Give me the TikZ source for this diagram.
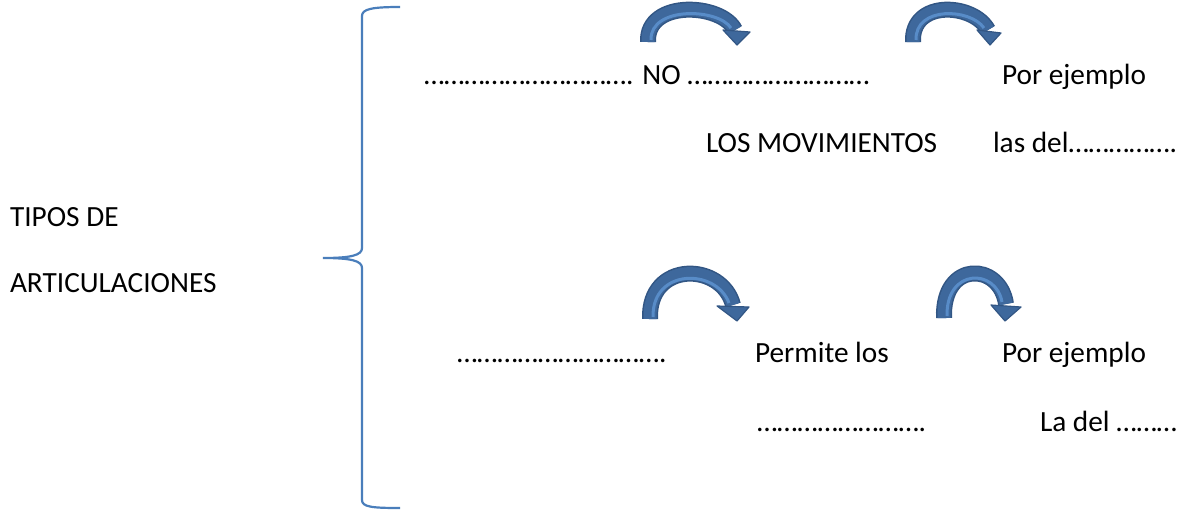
\documentclass[tikz,border=0pt]{standalone}
\usepackage{fontspec}
\setmainfont{Carlito}
\definecolor{bracecol}{RGB}{74,126,187}
\definecolor{arrfill}{RGB}{62,104,156}
\definecolor{arredge}{RGB}{50,86,132}
\definecolor{arrlight}{RGB}{88,140,200}
\tikzset{
  txt/.style={anchor=base west, inner sep=0pt, outer sep=0pt, font=\fontsize{29.3}{35}\selectfont},
  brace/.style={draw=bracecol, line width=2.2pt},
  arrout/.style={draw=arredge, line width=16pt},
  arrbody/.style={draw=arrfill, line width=13pt},
  arrhigh/.style={draw=arrlight, line width=3pt},
  arrhead/.style={fill=arrfill, draw=arredge, line width=1.2pt, line join=round},
}
\newcommand{\curvarr}[6]{%
  % #1 start, #2 c1, #3 c2, #4 end, #5 wing1, #6 wing2 ; tip via \arrtip
  \draw[arrout] #1 .. controls #2 and #3 .. #4;
  \draw[arrbody] #1 .. controls #2 and #3 .. #4;
}
\begin{document}
\begin{tikzpicture}[x=1pt,y=-1pt]
\useasboundingbox (0,0) rectangle (1185,509);
% brace
\draw[brace] (400,7) .. controls (372,7) and (362,9) .. (362,16) -- (362,248)
  .. controls (362,255) and (352,258) .. (323,258)
  .. controls (352,258) and (362,261) .. (362,268) -- (362,500)
  .. controls (362,507) and (372,508) .. (400,508);
% arrow 1
\curvarr{(648,42)}{(646,-1)}{(722,3)}{(735,30)}{}{}
\draw[arrhigh] (651,40) .. controls (650,6) and (718,8) .. (731,28);
\draw[arrhead] (723,30) -- (750,32) -- (737,45) -- cycle;
% arrow 2
\curvarr{(913,42)}{(911,-1)}{(974,3)}{(988,30)}{}{}
\draw[arrhigh] (916,40) .. controls (915,6) and (970,8) .. (984,28);
\draw[arrhead] (977,30) -- (1001,33) -- (990,45) -- cycle;
% arrow 3
\curvarr{(650,319)}{(648,260)}{(722,262)}{(733,305)}{}{}
\draw[arrhigh] (653,317) .. controls (652,268) and (716,268) .. (729,303);
\draw[arrhead] (717,306) -- (749,307) -- (737,321) -- cycle;
% arrow 4
\curvarr{(944,318)}{(942,260)}{(1000,262)}{(1006,304)}{}{}
\draw[arrhigh] (947,316) .. controls (946,268) and (996,268) .. (1002,302);
\draw[arrhead] (991,305) -- (1021,307) -- (1005,321) -- cycle;
% texts
\node[txt] (t1) at (10,226) {TIPOS DE};
\node[txt] (t2) at (10,292) {ARTICULACIONES};
\node[txt] (a1) at (424,84) {…………………………. NO ………………………};
\node[txt] (a2) at (1002,84) {Por ejemplo};
\node[txt] (a3) at (706,152) {LOS MOVIMIENTOS};
\node[txt] (a4) at (993,152) {las del…………….};
\node[txt] (b1) at (457,362) {………………………….};
\node[txt] (b2) at (755,362) {Permite los};
\node[txt] (b3) at (1002,362) {Por ejemplo};
\node[txt] (b4) at (757,431) {…………………….};
\node[txt] (b5) at (1040,431) {La del ………};
\end{tikzpicture}
\end{document}
